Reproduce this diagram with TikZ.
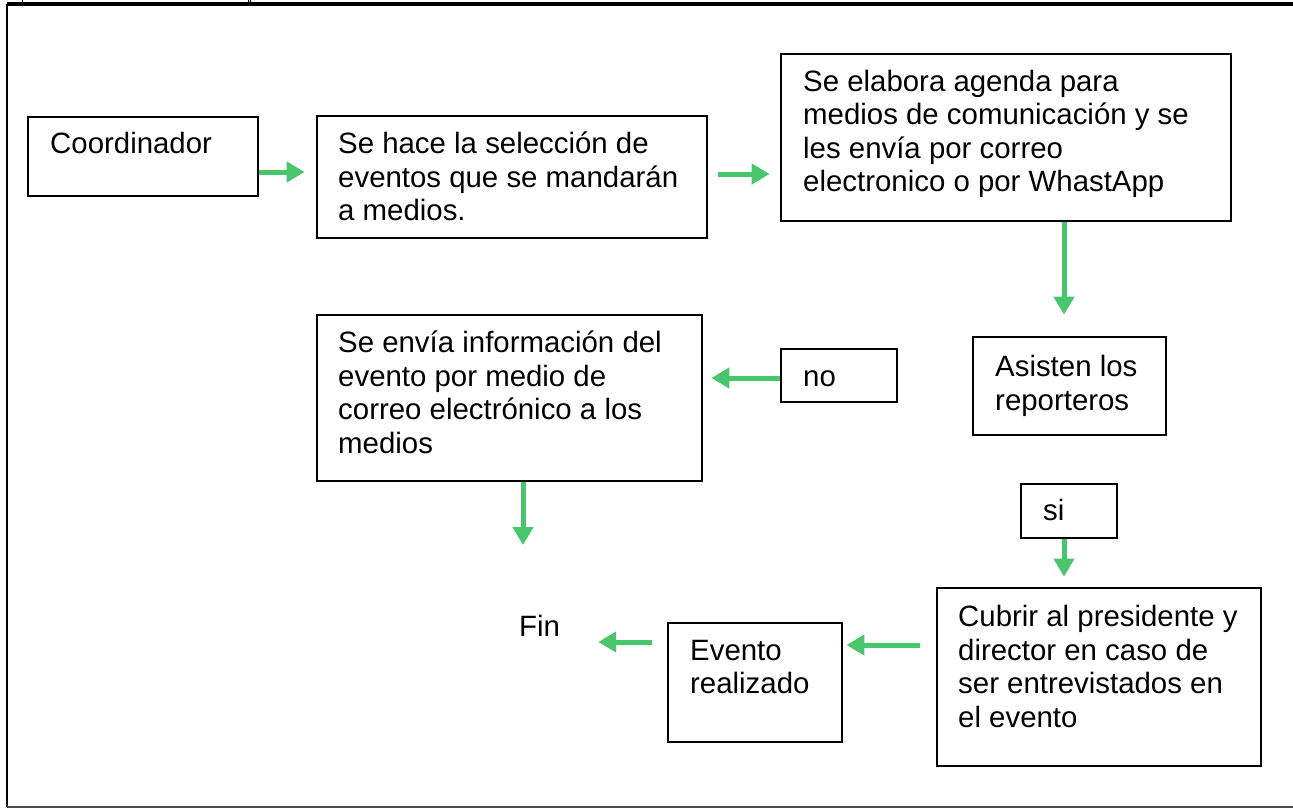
\documentclass[tikz,border=0pt]{standalone}
\usepackage{fontspec}
\setmainfont{Liberation Sans}
\usetikzlibrary{arrows.meta}
\definecolor{arrgreen}{RGB}{72,198,108}
\newcommand\tb[1]{\parbox[t]{480pt}{\raggedright #1}}
\begin{document}
\begin{tikzpicture}[x=1pt,y=-1pt,
  box/.style={draw=black, line width=2.8pt, inner sep=0pt},
  txt/.style={inner sep=0pt, anchor=base west, font=\fontsize{29.4}{33.5}\selectfont, text=black},
  arr/.style={draw=arrgreen, line width=5pt, -{Triangle[length=18pt,width=20pt]}}]
\useasboundingbox (0,0) rectangle (1293,811);
% outer frame
\draw[line width=1.6pt] (7,807) -- (7,5) -- (1293,5);
\draw[line width=1.6pt] (1293,3) -- (7,3);
\draw[line width=1pt] (22,-2) rectangle (248,2);
\draw[line width=1pt] (250,-2) -- (250,3);
\draw[line width=2pt,black!70] (7,807) -- (1293,807);
% boxes
\node[box, minimum width=230pt, minimum height=79pt] (b1) at (143,156.5) {};
\node[box, minimum width=390pt, minimum height=122pt] (b2) at (512,177) {};
\node[box, minimum width=450pt, minimum height=167pt] (b3) at (1006,137.5) {};
\node[box, minimum width=385pt, minimum height=166pt] (b4) at (509.5,398) {};
\node[box, minimum width=116pt, minimum height=53pt] (no) at (839,375.5) {};
\node[box, minimum width=193pt, minimum height=98pt] (b6) at (1069.5,386) {};
\node[box, minimum width=96pt, minimum height=54pt] (si) at (1069,511) {};
\node[box, minimum width=324pt, minimum height=178pt] (b8) at (1099,677) {};
\node[box, minimum width=174pt, minimum height=119pt] (b9) at (755,682.5) {};
% texts
\node[txt] (t1) at (50,153.5) {\tb{Coordinador}};
\node[txt] (t2) at (338,153.5) {\tb{Se hace la selección de\\eventos que se mandarán\\a medios.}};
\node[txt] (t3) at (803,91) {\tb{Se elabora agenda para\\medios de comunicación y se\\les envía por correo\\electronico o por WhastApp}};
\node[txt] (t4) at (338,352.5) {\tb{Se envía información del\\evento por medio de\\correo electrónico a los\\medios}};
\node[txt] (tno) at (803,386.5) {\tb{no}};
\node[txt] (t6) at (995,376.5) {\tb{Asisten los\\reporteros}};
\node[txt] (tsi) at (1043,520.5) {\tb{si}};
\node[txt] (t8) at (958,626.5) {\tb{Cubrir al presidente y\\director en caso de\\ser entrevistados en\\el evento}};
\node[txt] (t9) at (690,660) {\tb{Evento\\realizado}};
\node[txt] (fin) at (519,636) {Fin};
\coordinate (finup) at (523,545);
% connectors
\draw[arr, shorten >=11pt] (b1.east |- 0,172) -- (b2.west |- 0,172);
\draw[arr, shorten <=10pt, shorten >=10pt] (b2.east |- 0,174) -- (b3.west |- 0,174);
\draw[arr, shorten >=21pt] (b3.south -| 1064,0) -- (b6.north -| 1064,0);
\draw[arr, shorten >=8pt] (no.west |- 0,378) -- (b4.east |- 0,378);
\draw[arr] (b4.south -| finup) -- (finup);
\draw[arr, shorten >=10pt] (si.south -| 1064,0) -- (b8.north -| 1064,0);
\draw[arr, shorten <=16pt, shorten >=3pt] (b8.west |- 0,645) -- (b9.east |- 0,645);
\draw[arr, shorten <=15pt, shorten >=38pt] (b9.west |- 0,642) -- (fin.east |- 0,642);
\end{tikzpicture}
\end{document}
